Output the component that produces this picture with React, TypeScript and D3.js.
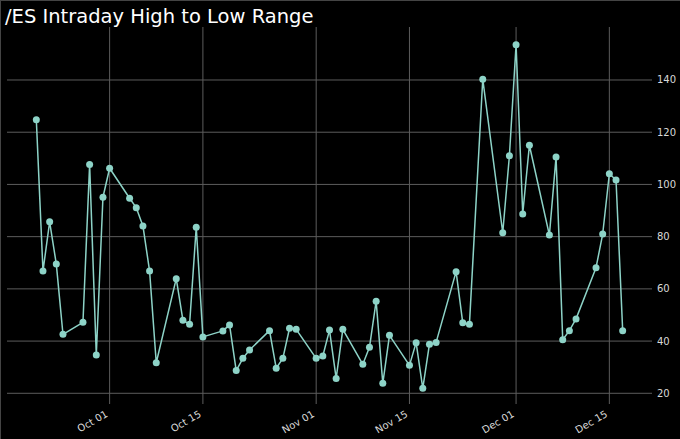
import React from "react";
import * as d3 from "d3";

const dates: string[] = [
  "2021-09-20", "2021-09-21", "2021-09-22", "2021-09-23", "2021-09-24",
  "2021-09-27", "2021-09-28", "2021-09-29", "2021-09-30", "2021-10-01",
  "2021-10-04", "2021-10-05", "2021-10-06", "2021-10-07", "2021-10-08",
  "2021-10-11", "2021-10-12", "2021-10-13", "2021-10-14", "2021-10-15",
  "2021-10-18", "2021-10-19", "2021-10-20", "2021-10-21", "2021-10-22",
  "2021-10-25", "2021-10-26", "2021-10-27", "2021-10-28", "2021-10-29",
  "2021-11-01", "2021-11-02", "2021-11-03", "2021-11-04", "2021-11-05",
  "2021-11-08", "2021-11-09", "2021-11-10", "2021-11-11", "2021-11-12",
  "2021-11-15", "2021-11-16", "2021-11-17", "2021-11-18", "2021-11-19",
  "2021-11-22", "2021-11-23", "2021-11-24", "2021-11-26",
  "2021-11-29", "2021-11-30", "2021-12-01", "2021-12-02", "2021-12-03",
  "2021-12-06", "2021-12-07", "2021-12-08", "2021-12-09", "2021-12-10",
  "2021-12-13", "2021-12-14", "2021-12-15", "2021-12-16", "2021-12-17",
];

const ranges: number[] = [
  124.8, 66.8, 85.7, 69.5, 42.6,
  47.2, 107.6, 34.7, 95.1, 106.2,
  94.7, 91.1, 84.1, 66.8, 31.7,
  63.9, 48.0, 46.4, 83.6, 41.6,
  43.9, 46.2, 28.7, 33.4, 36.6,
  44.0, 29.6, 33.4, 44.9, 44.5,
  33.4, 34.3, 44.2, 25.7, 44.5,
  31.1, 37.6, 55.3, 23.8, 42.2,
  30.7, 39.4, 21.9, 38.8, 39.5,
  66.6, 47.0, 46.4, 140.3,
  81.5, 111.0, 153.5, 88.7, 115.0,
  80.6, 110.5, 40.5, 44.0, 48.5,
  68.1, 81.0, 104.1, 101.7, 44.0,
];

const xTickDates: string[] = ["2021-10-01", "2021-10-15", "2021-11-01", "2021-11-15", "2021-12-01", "2021-12-15"];
const yTicks: number[] = [20, 40, 60, 80, 100, 120, 140];
const title = "/ES Intraday High to Low Range";

const W = 680;
const H = 439;
const left = 7;
const right = 652;
const top = 27;
const bottom = 404;
const FONT = "'DejaVu Sans', sans-serif";
const COLOR = "#8dd3c7";
const GRID = "#5c5c5c";

export default function App() {
  const parse = d3.utcParse("%Y-%m-%d");
  const pts = dates.map((d, i) => ({ date: parse(d) as Date, v: ranges[i] }));
  const [d0, d1] = d3.extent(pts, (p) => p.date) as [Date, Date];
  const span = d1.getTime() - d0.getTime();
  const x = d3
    .scaleUtc()
    .domain([new Date(d0.getTime() - span * 0.05), new Date(d1.getTime() + span * 0.05)])
    .range([left, right]);
  const y = d3.scaleLinear().domain([15.9, 160.3]).range([bottom, top]);
  const line = d3
    .line<{ date: Date; v: number }>()
    .x((p) => x(p.date))
    .y((p) => y(p.v));
  const fmt = d3.utcFormat("%b %d");

  return (
    <svg
      width={W}
      height={H}
      style={{ position: "absolute", left: 0, top: 0, display: "block" }}
    >
      <rect x={0} y={0} width={W} height={H} fill="#000" />
      <line x1={0} y1={0.5} x2={W} y2={0.5} stroke="#444" strokeWidth={1} />
      <line x1={0.5} y1={0} x2={0.5} y2={H} stroke="#444" strokeWidth={1} />
      <text x={5} y={22.5} fill="#fff" fontFamily={FONT} fontSize={19.5}>
        {title}
      </text>
      {yTicks.map((t) => (
        <g key={"y" + t}>
          <line x1={left} x2={right} y1={y(t)} y2={y(t)} stroke={GRID} strokeWidth={1} />
          <text
            x={657}
            y={y(t)}
            dy="0.35em"
            fill="#d8d8d8"
            fontFamily={FONT}
            fontSize={10}
          >
            {t}
          </text>
        </g>
      ))}
      {xTickDates.map((s) => {
        const d = parse(s) as Date;
        const xx = x(d);
        return (
          <g key={s}>
            <line x1={xx} x2={xx} y1={top} y2={bottom} stroke={GRID} strokeWidth={1} />
            <text
              transform={`translate(${xx - 1},${bottom + 12}) rotate(-30)`}
              textAnchor="end"
              fill="#d8d8d8"
              fontFamily={FONT}
              fontSize={10}
            >
              {fmt(d)}
            </text>
          </g>
        );
      })}
      <path d={line(pts) || ""} fill="none" stroke={COLOR} strokeWidth={1.5} strokeLinejoin="round" />
      {pts.map((p, i) => (
        <circle key={i} cx={x(p.date)} cy={y(p.v)} r={3.5} fill={COLOR} />
      ))}
    </svg>
  );
}
